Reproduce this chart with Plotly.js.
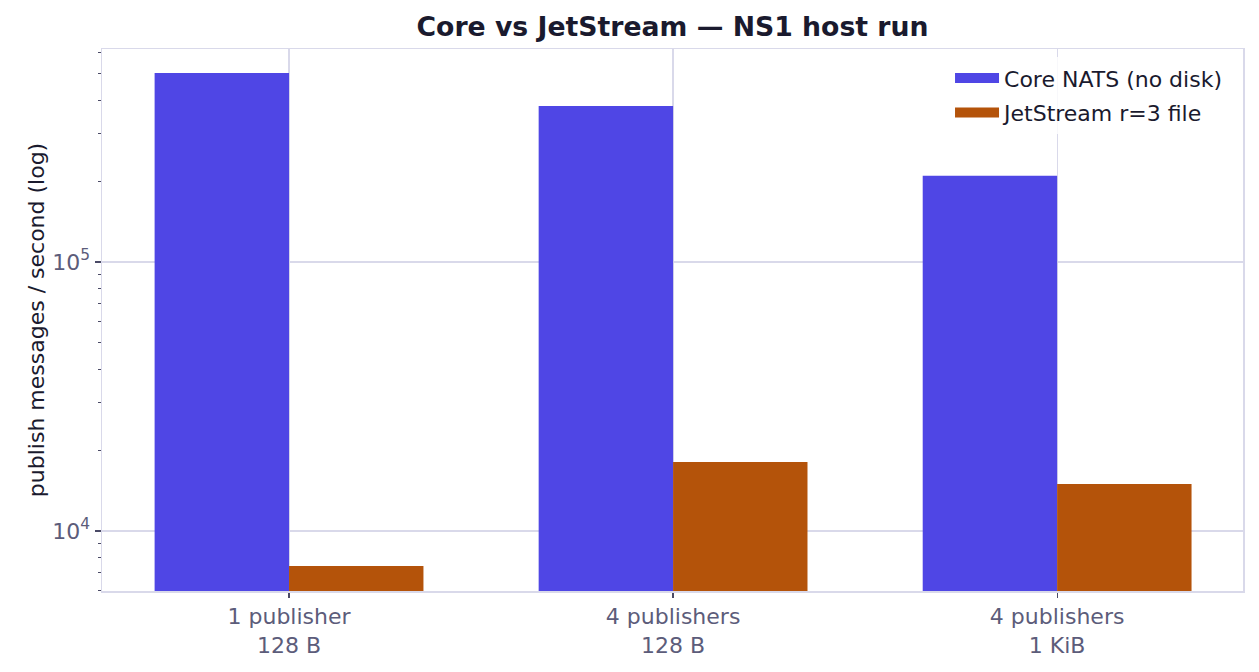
<!DOCTYPE html>
<html><head><meta charset="utf-8">
<script src="https://cdn.plot.ly/plotly-3.0.1.min.js"></script>
<style>body{margin:0;background:#fff}</style>
</head><body>
<div id="chart" style="width:1259px;height:672px"></div>
<script>
const categories = ["1 publisher<br>128 B", "4 publishers<br>128 B", "4 publishers<br>1 KiB"];
const coreValues = [504000, 380000, 209000];
const jetstreamValues = [7410, 18050, 14950];
const seriesNames = ["Core NATS (no disk)", "JetStream r=3 file"];
const seriesColors = ["#4f46e5", "#b4530a"];
const yTickVals = [1e4, 1e5];
const yTickText = ["10<sup>4</sup>", "10<sup>5</sup>"];
const yMinorVals = [6000,7000,8000,9000,20000,30000,40000,50000,60000,70000,80000,90000,200000,300000,400000,500000,600000];

const xIdx = categories.map((_, i) => i);
const font = "DejaVu Sans, sans-serif";
const frame = "#d9d9ea";

const traces = [
  {type:"bar", x:xIdx, y:coreValues, name:seriesNames[0], marker:{color:seriesColors[0]}, showlegend:false},
  {type:"bar", x:xIdx, y:jetstreamValues, name:seriesNames[1], marker:{color:seriesColors[1]}, showlegend:false},
  {type:"scatter", mode:"lines", x:[null], y:[null], name:seriesNames[0], legendgroup:"a",
    line:{color:seriesColors[0], width:16}},
  {type:"scatter", mode:"lines", x:[null], y:[null], name:seriesNames[1], legendgroup:"b",
    line:{color:seriesColors[1], width:16}}
];

const layout = {
  width:1259, height:672,
  margin:{l:102, r:16, t:49, b:81},
  paper_bgcolor:"#fff", plot_bgcolor:"#fff",
  barmode:"group", bargap:0.3, bargroupgap:0,
  font:{family:font, size:22, color:"#1a1a2e"},
  title:{text:"<b>Core vs JetStream — NS1 host run</b>", xref:"paper", x:0.5, xanchor:"center", y:0.96, yanchor:"middle",
    font:{family:font, size:26.7, color:"#1a1a2e"}},
  showlegend:true,
  legend:{x:0.986, xanchor:"right", y:0.985, yanchor:"top", bgcolor:"rgba(255,255,255,0.8)",
    font:{family:font, size:22, color:"#1a1a2e"}, itemwidth:44, tracegroupgap:3},
  xaxis:{type:"linear", range:[-0.487, 2.484], tickvals:xIdx, ticktext:categories,
    showgrid:true, gridcolor:frame, gridwidth:1.2, zeroline:false,
    showline:true, mirror:true, linecolor:frame, linewidth:1.5,
    ticks:"outside", ticklen:5, tickcolor:"#4a4a66", tickwidth:1.2,
    tickfont:{family:font, size:22, color:"#5c5c7a"}},
  yaxis:{type:"log", range:[Math.log10(5984), Math.log10(619000)],
    tickmode:"array", tickvals:yTickVals, ticktext:yTickText,
    showgrid:true, gridcolor:frame, gridwidth:1.2, zeroline:false,
    showline:true, mirror:true, linecolor:frame, linewidth:1.5,
    ticks:"outside", ticklen:6, tickcolor:"#4a4a66", tickwidth:1.2,
    tickfont:{family:font, size:22, color:"#5c5c7a"},
    minor:{tickmode:"array", tickvals:yMinorVals, ticks:"outside", ticklen:3, tickcolor:"#4a4a66", tickwidth:1, showgrid:false},
    title:{text:"publish messages / second (log)", standoff:1, font:{family:font, size:22, color:"#1a1a2e"}}}
};

Plotly.newPlot("chart", traces, layout, {displayModeBar:false, staticPlot:true});
</script>
</body></html>
